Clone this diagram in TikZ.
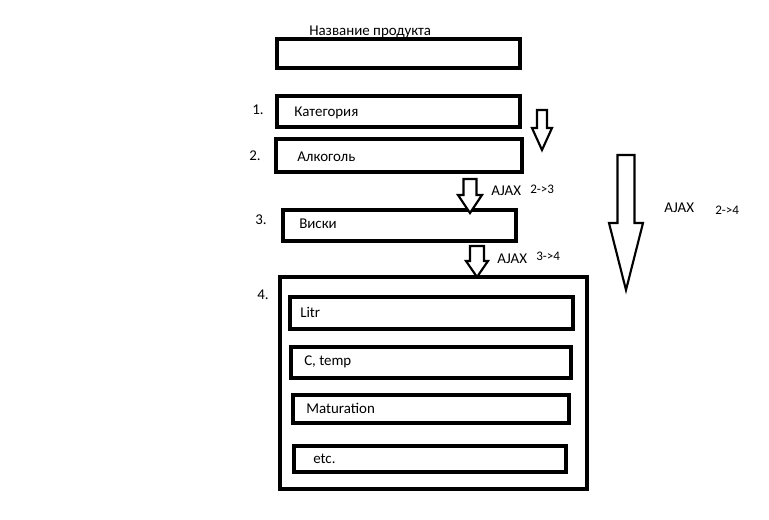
\documentclass[tikz,border=0pt]{standalone}
\usepackage{fontspec}
\setmainfont{Carlito}
\usetikzlibrary{fit}
\tikzset{
  x=0.75pt, y=-0.75pt,
  box/.style={draw=black, line width=2.3pt, inner sep=0pt, fill=none},
  lbl/.style={inner sep=0pt, anchor=west, font=\fontsize{11.2}{13}\selectfont},
  small/.style={inner sep=0pt, anchor=west, font=\fontsize{9.8}{11}\selectfont},
  blockarr/.style={draw=black, line width=1.6pt, fill=white, line join=miter},
}
\newcommand{\blockarrow}[6]{% xc, ytop, halfshaft, yhead, halfhead, ytip
  \draw[blockarr] ({#1-#3},#2) -- ({#1+#3},#2) -- ({#1+#3},#4) -- ({#1+#5},#4)
    -- (#1,#6) -- ({#1-#5},#4) -- ({#1-#3},#4) -- cycle;}
\begin{document}
\begin{tikzpicture}
\useasboundingbox[fill=white] (0,0) rectangle (769,519);
% boxes
\node[box, fit={(277,39) (520,68)}] (name) {};
\node[box, fit={(277,96) (520,127)}] (cat) {};
\node[box, fit={(276,139) (522,172)}] (alc) {};
\node[box, fit={(283,210) (516,241)}] (whisky) {};
\node[box, fit={(280,277) (587,489)}] (params) {};
\node[box, fit={(290,297) (573,329)}] (litr) {};
\node[box, fit={(291,347) (571,378)}] (temp) {};
\node[box, fit={(293,395) (569,423)}] (mat) {};
\node[box, fit={(294,446) (566,472)}] (etc) {};
% texts
\node[lbl] (title) at (309,32) {Название продукта};
\node[lbl] (n1) at (252,110) {1.};
\node[lbl] (n2) at (249,156) {2.};
\node[lbl] (n3) at (255,220) {3.};
\node[lbl] (n4) at (257,295) {4.};
\node[lbl] (tcat) at (294,113) {Категория};
\node[lbl] (talc) at (297,157) {Алкоголь};
\node[lbl] (twh) at (299,224) {Виски};
\node[lbl] (tlitr) at (300,312) {Litr};
\node[lbl] (ttemp) at (304,362) {C, temp};
\node[lbl] (tmat) at (306,408) {Maturation};
\node[lbl] (tetc) at (313,459) {etc.};
\node[lbl] (aj1) at (491,191) {AJAX};
\node[small] (s1) at (530,189) {2->3};
\node[lbl] (aj2) at (497,259) {AJAX};
\node[small] (s2) at (536,256) {3->4};
\node[lbl] (aj3) at (664,208) {AJAX};
\node[small] (s3) at (715,210) {2->4};
% block arrows
\blockarrow{542}{110}{5}{128}{10}{150}
\blockarrow{470}{179}{6.5}{195}{12}{213}
\blockarrow{477}{246}{7}{261}{11}{277}
\blockarrow{626}{155}{8.5}{223}{17}{290}
\end{tikzpicture}
\end{document}
